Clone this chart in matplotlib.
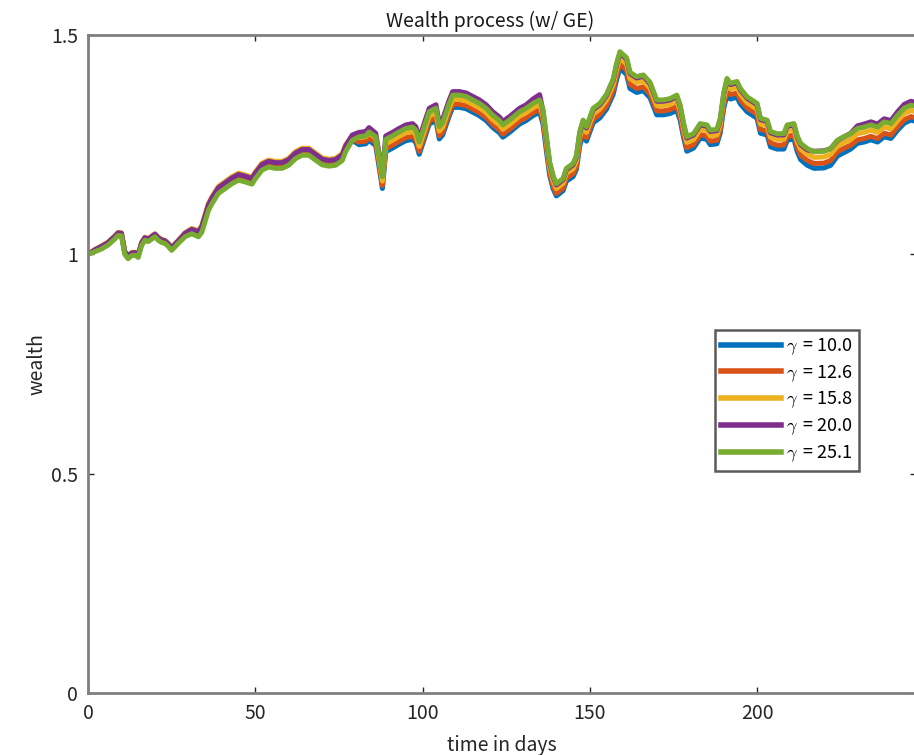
import numpy as np
import matplotlib.pyplot as plt

plt.rcParams['font.family'] = ['Noto Sans CJK JP', 'DejaVu Sans']
plt.rcParams['mathtext.fontset'] = 'cm'

# sampled trading days
days = [0, 2, 4, 6, 8, 9, 10, 11, 12, 13, 14, 15, 16, 17, 18, 20, 21, 22, 23, 24,
        25, 27, 29, 31, 33, 34, 35, 36, 37, 39, 41, 43, 45, 47, 49, 50, 52, 54, 56, 58,
        60, 62, 64, 66, 68, 70, 72, 74, 76, 77, 79, 81, 83, 84, 86, 87, 88, 89, 91, 93,
        95, 97, 98, 99, 101, 102, 104, 105, 106, 108, 109, 111, 113, 115, 117, 119, 121, 123, 124, 126,
        129, 131, 133, 135, 136, 137, 138, 139, 140, 142, 143, 145, 146, 147, 148, 149, 151, 153, 155, 157,
        158, 159, 161, 162, 164, 166, 168, 170, 172, 174, 176, 177, 178, 179, 181, 183, 185, 186, 188, 189,
        190, 191, 192, 194, 195, 197, 200, 201, 203, 204, 206, 208, 209, 211, 212, 213, 215, 217, 220, 222,
        224, 226, 228, 230, 232, 234, 236, 238, 240, 242, 244, 246, 248]

w_g10 = [1.000, 1.008, 1.015, 1.024, 1.038, 1.046, 1.045, 1.003, 0.993, 1.000, 1.001, 0.996, 1.023, 1.035, 1.032, 1.043, 1.035, 1.030, 1.028, 1.021,
         1.012, 1.028, 1.044, 1.053, 1.047, 1.058, 1.083, 1.108, 1.123, 1.147, 1.158, 1.169, 1.177, 1.173, 1.168, 1.180, 1.200, 1.207, 1.204, 1.204,
         1.211, 1.226, 1.234, 1.234, 1.223, 1.212, 1.209, 1.211, 1.222, 1.242, 1.260, 1.250, 1.252, 1.260, 1.248, 1.200, 1.150, 1.234, 1.242, 1.251,
         1.259, 1.262, 1.255, 1.228, 1.274, 1.297, 1.305, 1.263, 1.272, 1.316, 1.335, 1.335, 1.332, 1.324, 1.316, 1.305, 1.289, 1.277, 1.267, 1.278,
         1.297, 1.305, 1.316, 1.324, 1.297, 1.237, 1.180, 1.150, 1.133, 1.145, 1.167, 1.177, 1.194, 1.248, 1.273, 1.258, 1.300, 1.311, 1.331, 1.365,
         1.398, 1.424, 1.410, 1.378, 1.369, 1.373, 1.357, 1.318, 1.318, 1.321, 1.328, 1.306, 1.267, 1.235, 1.242, 1.265, 1.262, 1.250, 1.252, 1.277,
         1.332, 1.364, 1.354, 1.358, 1.343, 1.325, 1.310, 1.276, 1.272, 1.245, 1.240, 1.240, 1.260, 1.263, 1.234, 1.216, 1.203, 1.196, 1.197, 1.203,
         1.224, 1.232, 1.240, 1.253, 1.256, 1.261, 1.256, 1.268, 1.264, 1.283, 1.299, 1.306, 1.302]

w_g126 = [1.000, 1.009, 1.016, 1.025, 1.039, 1.047, 1.046, 1.004, 0.994, 1.001, 1.002, 0.997, 1.024, 1.036, 1.033, 1.044, 1.036, 1.031, 1.029, 1.022,
          1.013, 1.029, 1.045, 1.054, 1.049, 1.060, 1.085, 1.110, 1.125, 1.149, 1.160, 1.171, 1.179, 1.175, 1.170, 1.182, 1.202, 1.209, 1.206, 1.206,
          1.213, 1.228, 1.236, 1.236, 1.225, 1.214, 1.211, 1.213, 1.224, 1.244, 1.262, 1.256, 1.258, 1.266, 1.255, 1.208, 1.157, 1.241, 1.249, 1.258,
          1.266, 1.269, 1.262, 1.235, 1.281, 1.304, 1.312, 1.270, 1.279, 1.323, 1.342, 1.342, 1.339, 1.331, 1.323, 1.312, 1.296, 1.284, 1.274, 1.285,
          1.304, 1.312, 1.323, 1.331, 1.305, 1.245, 1.187, 1.157, 1.139, 1.151, 1.174, 1.184, 1.201, 1.256, 1.281, 1.266, 1.308, 1.319, 1.339, 1.374,
          1.408, 1.434, 1.420, 1.388, 1.378, 1.382, 1.366, 1.327, 1.327, 1.330, 1.337, 1.315, 1.275, 1.243, 1.250, 1.273, 1.270, 1.258, 1.260, 1.285,
          1.341, 1.374, 1.364, 1.368, 1.352, 1.334, 1.319, 1.285, 1.281, 1.254, 1.249, 1.249, 1.269, 1.272, 1.244, 1.226, 1.214, 1.207, 1.208, 1.214,
          1.234, 1.242, 1.249, 1.261, 1.264, 1.269, 1.264, 1.276, 1.272, 1.291, 1.307, 1.314, 1.310]

w_g158 = [1.000, 1.011, 1.019, 1.028, 1.042, 1.050, 1.049, 1.007, 0.997, 1.004, 1.005, 1.000, 1.027, 1.039, 1.036, 1.047, 1.039, 1.034, 1.032, 1.025,
          1.016, 1.032, 1.049, 1.059, 1.054, 1.066, 1.091, 1.116, 1.131, 1.155, 1.166, 1.177, 1.185, 1.181, 1.176, 1.188, 1.208, 1.215, 1.212, 1.212,
          1.219, 1.234, 1.242, 1.242, 1.231, 1.220, 1.217, 1.219, 1.230, 1.250, 1.270, 1.266, 1.268, 1.277, 1.265, 1.218, 1.167, 1.252, 1.260, 1.269,
          1.277, 1.280, 1.273, 1.246, 1.292, 1.315, 1.323, 1.281, 1.290, 1.334, 1.353, 1.353, 1.350, 1.342, 1.334, 1.323, 1.307, 1.295, 1.285, 1.296,
          1.315, 1.323, 1.334, 1.342, 1.317, 1.257, 1.198, 1.168, 1.150, 1.162, 1.185, 1.195, 1.213, 1.268, 1.293, 1.278, 1.320, 1.331, 1.352, 1.387,
          1.421, 1.448, 1.434, 1.401, 1.391, 1.395, 1.379, 1.339, 1.339, 1.342, 1.350, 1.327, 1.287, 1.255, 1.262, 1.285, 1.282, 1.270, 1.272, 1.297,
          1.354, 1.388, 1.377, 1.381, 1.365, 1.346, 1.331, 1.297, 1.293, 1.267, 1.262, 1.262, 1.282, 1.285, 1.257, 1.240, 1.228, 1.221, 1.222, 1.228,
          1.247, 1.255, 1.262, 1.275, 1.278, 1.283, 1.278, 1.290, 1.286, 1.305, 1.321, 1.328, 1.324]

w_g200 = [1.000, 1.010, 1.018, 1.027, 1.041, 1.049, 1.048, 1.006, 0.996, 1.003, 1.004, 0.999, 1.026, 1.038, 1.035, 1.046, 1.038, 1.033, 1.031, 1.024,
          1.015, 1.031, 1.048, 1.057, 1.052, 1.063, 1.088, 1.113, 1.128, 1.152, 1.163, 1.174, 1.182, 1.178, 1.173, 1.185, 1.205, 1.212, 1.209, 1.209,
          1.216, 1.231, 1.239, 1.239, 1.228, 1.217, 1.214, 1.216, 1.227, 1.247, 1.272, 1.278, 1.280, 1.289, 1.276, 1.230, 1.180, 1.270, 1.278, 1.287,
          1.295, 1.298, 1.291, 1.264, 1.310, 1.333, 1.341, 1.299, 1.308, 1.352, 1.371, 1.371, 1.368, 1.360, 1.352, 1.341, 1.325, 1.313, 1.303, 1.314,
          1.333, 1.341, 1.354, 1.364, 1.327, 1.267, 1.207, 1.177, 1.158, 1.170, 1.193, 1.204, 1.222, 1.277, 1.303, 1.288, 1.330, 1.341, 1.362, 1.397,
          1.432, 1.459, 1.445, 1.412, 1.402, 1.406, 1.389, 1.349, 1.349, 1.352, 1.360, 1.337, 1.297, 1.265, 1.272, 1.295, 1.292, 1.280, 1.282, 1.307,
          1.364, 1.398, 1.387, 1.391, 1.375, 1.356, 1.341, 1.307, 1.303, 1.277, 1.272, 1.272, 1.292, 1.295, 1.267, 1.250, 1.238, 1.235, 1.236, 1.241,
          1.259, 1.268, 1.276, 1.293, 1.297, 1.302, 1.297, 1.309, 1.305, 1.325, 1.342, 1.349, 1.345]

w_g251 = [1.000, 1.006, 1.012, 1.021, 1.035, 1.043, 1.042, 1.000, 0.990, 0.997, 0.998, 0.993, 1.020, 1.032, 1.029, 1.040, 1.032, 1.027, 1.025, 1.018,
          1.009, 1.025, 1.040, 1.047, 1.040, 1.050, 1.075, 1.100, 1.115, 1.139, 1.150, 1.161, 1.169, 1.165, 1.160, 1.172, 1.192, 1.199, 1.196, 1.196,
          1.203, 1.218, 1.226, 1.226, 1.215, 1.204, 1.201, 1.203, 1.214, 1.234, 1.260, 1.268, 1.270, 1.279, 1.268, 1.225, 1.177, 1.262, 1.270, 1.279,
          1.287, 1.290, 1.283, 1.256, 1.302, 1.325, 1.333, 1.291, 1.300, 1.344, 1.363, 1.363, 1.360, 1.352, 1.344, 1.333, 1.317, 1.305, 1.295, 1.306,
          1.325, 1.333, 1.344, 1.352, 1.330, 1.270, 1.210, 1.180, 1.161, 1.173, 1.196, 1.207, 1.225, 1.280, 1.306, 1.291, 1.333, 1.344, 1.365, 1.400,
          1.435, 1.462, 1.448, 1.415, 1.405, 1.409, 1.392, 1.352, 1.352, 1.355, 1.363, 1.340, 1.300, 1.268, 1.275, 1.298, 1.295, 1.283, 1.285, 1.310,
          1.367, 1.401, 1.390, 1.394, 1.378, 1.359, 1.344, 1.310, 1.306, 1.280, 1.275, 1.275, 1.295, 1.298, 1.270, 1.253, 1.241, 1.234, 1.235, 1.241,
          1.260, 1.268, 1.275, 1.287, 1.290, 1.295, 1.290, 1.302, 1.298, 1.317, 1.333, 1.340, 1.336]

series = [w_g10, w_g126, w_g158, w_g200, w_g251]
labels = [r'$\gamma\,$ = 10.0', r'$\gamma\,$ = 12.6', r'$\gamma\,$ = 15.8', r'$\gamma\,$ = 20.0', r'$\gamma\,$ = 25.1']
colors = ['#0072BD', '#D95319', '#EDB120', '#7E2F8E', '#77AC30']

fig = plt.figure(figsize=(9.14, 7.55), dpi=100)
ax = fig.add_axes([88 / 914, 62 / 755, 828 / 914, 658 / 755])

for vals, lab, c in zip(series, labels, colors):
    ax.plot(days, vals, color=c, lw=3.6, label=lab)

ax.set_xlim(0, 247.5)
ax.set_ylim(0, 1.5)
ax.set_xticks([0, 50, 100, 150, 200])
ax.set_yticks([0, 0.5, 1, 1.5])
ax.set_yticklabels(['0', '0.5', '1', '1.5'])

for s in ax.spines.values():
    s.set_color('#808080')
    s.set_linewidth(2)
ax.tick_params(direction='in', top=True, right=True, length=4, width=1,
               color='#262626', labelcolor='#262626', labelsize=14, pad=7)

ax.set_title('Wealth process (w/ GE)', fontsize=14, color='#1a1a1a', x=0.486, pad=6)
ax.set_xlabel('time in days', fontsize=14, color='#262626', labelpad=8)
ax.set_ylabel('wealth', fontsize=14, color='#262626', labelpad=3)

leg = ax.legend(loc='upper left', bbox_to_anchor=(0.757, 0.552), fontsize=13,
                handlelength=3.3, handletextpad=0.3, borderpad=0.35, labelspacing=0.35,
                fancybox=False, framealpha=1, borderaxespad=0)
leg.get_frame().set_edgecolor('#5a5a5a')
leg.get_frame().set_linewidth(1.8)
for ln in leg.get_lines():
    ln.set_linewidth(4)

fig.savefig('out.png', dpi=100)
